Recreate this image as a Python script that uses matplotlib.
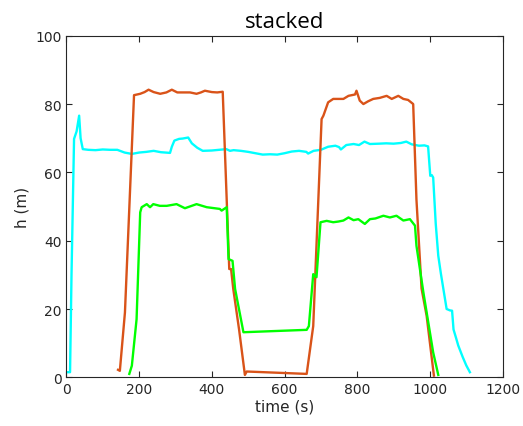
import matplotlib
matplotlib.use("Agg")
import matplotlib.pyplot as plt

# cyan trace
t_cyan = [0, 10, 14, 21, 28, 35, 39, 45, 60, 80, 100, 120, 140, 160, 180, 200,
          220, 240, 260, 285, 290, 297, 310, 320, 335, 345, 360, 375, 400, 420,
          440, 450, 460, 480, 500, 520, 540, 560, 580, 600, 620, 640, 660, 665,
          680, 700, 720, 740, 750, 755, 770, 790, 805, 820, 835, 860, 880, 900,
          920, 935, 950, 970, 985, 995, 1001, 1005, 1009, 1016, 1023, 1030,
          1037, 1046, 1055, 1061, 1065, 1072, 1078, 1090, 1100, 1110]
h_cyan = [1.5, 1.5, 30, 69.8, 72, 76.6, 70, 66.8, 66.6, 66.5, 66.7, 66.6, 66.6,
          65.8, 65.4, 65.8, 66.0, 66.3, 65.9, 65.7, 67.5, 69.3, 69.8, 69.9,
          70.2, 68.5, 67.2, 66.3, 66.4, 66.6, 66.8, 66.3, 66.5, 66.3, 66.0,
          65.6, 65.2, 65.3, 65.2, 65.6, 66.1, 66.3, 66.0, 65.5, 66.3, 66.6,
          67.5, 67.8, 67.4, 66.7, 68.0, 68.3, 68.0, 69.0, 68.3, 68.4, 68.5,
          68.4, 68.6, 69.0, 68.2, 67.8, 67.9, 67.6, 59.0, 59.2, 58.5, 45, 35.6,
          30.5, 25.9, 20.0, 19.6, 19.5, 14.0, 11.5, 9.3, 6.0, 3.5, 1.5]

# orange trace
t_orange = [142, 147, 161, 186, 203, 215, 226, 240, 258, 275,
            290, 305, 317, 340, 358, 370, 381, 400, 415, 430, 448, 453,
            459, 475, 491, 496, 661, 679, 702, 707, 720, 734, 748,
            762, 776, 794, 798, 807, 817, 830, 844, 862, 881, 895, 913, 927,
            940, 954, 963, 977, 991, 1011]
h_orange = [2.2, 1.9, 19, 82.6, 83.0, 83.5, 84.2, 83.5, 83.0, 83.4,
            84.2, 83.4, 83.4, 83.4, 83.0, 83.4, 83.9, 83.5, 83.4, 83.6,
            31.7, 31.7, 25.9, 14, 0.7, 1.7, 1.0, 15, 75.6, 76.6, 80.5,
            81.5, 81.5, 81.5, 82.4, 82.8, 83.9, 81.0, 80.0, 80.8, 81.5, 81.8,
            82.4, 81.5, 82.4, 81.5, 81.2, 80.0, 52, 26, 18, 0.5]

# green trace
t_green = [173, 180, 193, 203, 207, 221, 230, 239, 257, 276, 303, 326, 358,
           386, 422, 427, 441, 446, 457, 464, 487, 661, 667, 679, 688, 699,
           716, 734, 748, 762, 776, 790, 803, 821, 835, 850, 872, 890, 908,
           927, 945, 959, 963, 982, 1009, 1023]
h_green = [1.0, 3.4, 17, 48.3, 49.8, 50.7, 49.8, 50.7, 50.2, 50.2, 50.7, 49.5,
           50.7, 49.8, 49.3, 48.8, 49.8, 34.6, 34.1, 25.9, 13.2, 13.9, 15,
           30.2, 29.3, 45.4, 45.8, 45.4, 45.6, 45.9, 46.8, 46.0, 46.3, 44.9,
           46.3, 46.5, 47.3, 46.8, 47.3, 45.9, 46.3, 44.4, 38.5, 24.9, 7.3, 0.7]

ink = "#262626"
plt.rcParams["font.family"] = ["DejaVu Sans"]

fig = plt.figure(figsize=(5.23, 4.27), dpi=100)
ax = fig.add_axes([0.127, 0.114, 0.834, 0.800])

ax.plot(t_cyan, h_cyan, color="#00FFFF", lw=1.7)
ax.plot(t_orange, h_orange, color="#D95319", lw=1.7)
ax.plot(t_green, h_green, color="#00FF00", lw=1.7)

ax.set_xlim(0, 1200)
ax.set_ylim(0, 100)
ax.set_xticks(range(0, 1201, 200))
ax.set_yticks(range(0, 101, 20))
ax.tick_params(direction="in", top=True, right=True, length=4, width=0.8,
               colors=ink, labelsize=10)
for sp in ax.spines.values():
    sp.set_color(ink)
    sp.set_linewidth(0.8)

ax.set_xlabel("time (s)", fontsize=11, color=ink, labelpad=2)
ax.set_ylabel("h (m)", fontsize=11, color=ink, labelpad=4)
ax.set_title("stacked", fontsize=16, color="black", pad=6, family="Open Sans")

fig.savefig("out.png", dpi=100)
